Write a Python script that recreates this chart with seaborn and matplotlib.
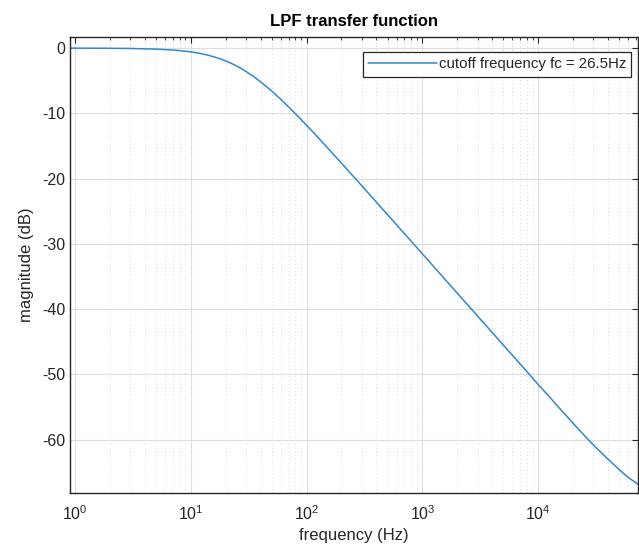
import matplotlib
matplotlib.use("Agg")
import matplotlib.pyplot as plt
import seaborn as sns
import pandas as pd
from matplotlib.ticker import LogLocator, NullFormatter

freq_hz = [0.9, 1, 2, 3, 5, 7, 8, 10, 12, 14, 17, 20, 23, 26.5, 30, 35, 40, 45, 50, 60, 70,
           85, 100, 120, 150, 200, 300, 500, 700, 1000, 2000, 3000, 4000, 5000, 6000, 7000,
           8500, 10000, 12000, 15000, 17500, 20000, 23500, 27000, 31000, 35000, 40000,
           45000, 50000, 55000, 60000, 65000, 69000, 73000]
magnitude_db = [-0.005, -0.006, -0.025, -0.056, -0.152, -0.293, -0.379, -0.578, -0.810,
                -1.070, -1.498, -1.958, -2.438, -3.010, -3.582, -4.384, -5.156, -5.892,
                -6.590, -7.872, -9.019, -10.526, -11.830, -13.326, -15.191, -17.63, -21.11,
                -25.53, -28.44, -31.54, -37.56, -41.08, -43.58, -45.52, -47.10, -48.44,
                -50.12, -51.58, -53.1, -55.05, -56.35, -57.5, -58.85, -60.0, -61.1, -62.0,
                -63.0, -63.85, -64.6, -65.25, -65.8, -66.25, -66.55, -66.85]
legend_label = "cutoff frequency fc = 26.5Hz"
y_ticks = [0, -10, -20, -30, -40, -50, -60]

df = pd.DataFrame({"f": freq_hz, "mag": magnitude_db, "series": legend_label})

sns.set_style("white")
plt.rcParams["font.family"] = ["Liberation Sans", "DejaVu Sans"]
plt.rcParams["mathtext.default"] = "regular"
plt.rcParams["axes.unicode_minus"] = False

fig = plt.figure(figsize=(6.39, 5.55), dpi=100)
ax = fig.add_axes([0.1095, 0.1117, 0.8885, 0.8216])

sns.lineplot(data=df, x="f", y="mag", hue="series", palette=["#2f88cc"],
             linewidth=1.1, ax=ax, legend=True)
ax.set_xscale("log")
ax.set_xlim(0.905, 72400)
ax.set_ylim(-68.2, 1.7)
ax.set_yticks(y_ticks)
ax.xaxis.set_major_locator(LogLocator(base=10, numticks=10))
ax.xaxis.set_minor_locator(LogLocator(base=10, subs=range(2, 10), numticks=100))
ax.xaxis.set_minor_formatter(NullFormatter())

tc = "#262626"
for s in ax.spines.values():
    s.set_color(tc)
    s.set_linewidth(1.0)
ax.tick_params(which="both", direction="in", top=True, right=True, colors=tc,
               labelsize=11.5, labelcolor=tc)
ax.tick_params(which="major", length=4)
ax.tick_params(which="minor", length=2.5)
ax.tick_params(axis="x", pad=8)

ax.grid(True, which="major", color="#dedede", linewidth=0.8, linestyle="-")
ax.grid(True, which="minor", axis="x", color="#c8c8c8", linewidth=0.6, linestyle=(0, (1, 3.5)))
ax.set_axisbelow(True)

ax.set_title("LPF transfer function", fontsize=12, fontweight="bold", color="black", pad=8)
ax.set_xlabel("frequency (Hz)", fontsize=12, color=tc, labelpad=4)
ax.set_ylabel("magnitude (dB)", fontsize=12, color=tc, labelpad=6)

leg = ax.legend(loc="upper right", fontsize=10.8, frameon=True, fancybox=False,
                edgecolor="#262626", framealpha=1, borderpad=0.35, handlelength=4.6,
                handletextpad=0.1, borderaxespad=0, bbox_to_anchor=(0.989, 0.967))
leg.get_frame().set_linewidth(0.9)

fig.savefig("out.png", dpi=100)
